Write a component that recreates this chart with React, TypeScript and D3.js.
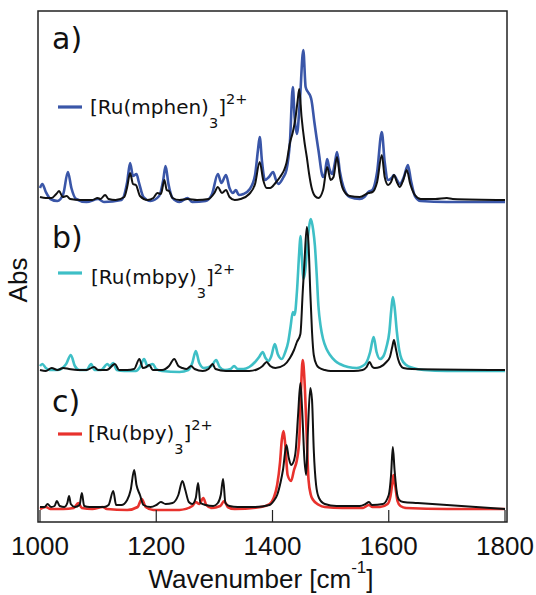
import React from 'react';
import * as d3 from 'd3';

// ---------- data (arbitrary absorbance units, relative to each panel baseline) ----------
const xTickValues = [1000, 1200, 1400, 1600, 1800];
const panelLabels = ['a)', 'b)', 'c)'];
const complexLigands = ['mphen', 'mbpy', 'bpy'];
const panelOffsets = [320, 150, 12];

const mphenSpectrum: [number, number][] = [
  [1000, 14], [1004, 18], [1010, 10], [1018, 3], [1030, 1], [1040, 8], [1048, 30], [1054, 14], [1062, 3],
  [1080, 0], [1100, 3], [1110, 0], [1140, 2], [1150, 20], [1155, 39], [1160, 26], [1166, 28], [1170, 20],
  [1178, 5], [1190, 1], [1205, 6], [1212, 22], [1216, 36], [1221, 18], [1228, 4], [1240, 0], [1254, 4],
  [1262, 0], [1285, 1], [1296, 8], [1306, 28], [1312, 19], [1320, 27], [1326, 14], [1332, 9], [1337, 12],
  [1342, 7], [1350, 8], [1361, 13], [1370, 27], [1375, 52], [1378, 65], [1382, 40], [1387, 22], [1394, 25],
  [1401, 30], [1406, 22], [1410, 18], [1418, 24], [1424, 32], [1430, 60], [1435, 115], [1438, 85],
  [1442, 68], [1447, 100], [1453, 152], [1457, 115], [1461, 110], [1465, 106], [1467, 102], [1472, 80],
  [1479, 52], [1487, 25], [1490, 28], [1494, 43], [1498, 33], [1503, 28], [1507, 38], [1511, 50],
  [1516, 30], [1522, 15], [1533, 5], [1550, 3], [1558, 5], [1565, 10], [1572, 12], [1580, 30], [1588, 70],
  [1593, 40], [1599, 22], [1605, 24], [1609, 27], [1614, 22], [1619, 18], [1626, 25], [1633, 37],
  [1638, 22], [1645, 6], [1655, 1], [1700, 0], [1800, 0],
];
const mphenReference: [number, number][] = [
  [1000, 5], [1010, 4], [1020, 4], [1028, 8], [1033, 11], [1039, 5], [1046, 6], [1052, 3], [1070, 2],
  [1090, 2], [1099, 4], [1104, 3], [1112, 7], [1118, 3], [1130, 2], [1145, 5], [1150, 15], [1155, 29],
  [1160, 18], [1165, 17], [1172, 6], [1185, 2], [1195, 4], [1202, 9], [1208, 8], [1214, 22], [1218, 12],
  [1222, 11], [1228, 4], [1240, 2], [1254, 3], [1270, 2], [1290, 3], [1300, 9], [1306, 15], [1313, 9],
  [1320, 12], [1326, 5], [1335, 2], [1345, 3], [1360, 8], [1370, 18], [1378, 40], [1384, 22], [1390, 14],
  [1396, 14], [1405, 19], [1413, 25], [1420, 32], [1424, 39], [1430, 59], [1435, 70], [1439, 82],
  [1443, 100], [1446, 113], [1450, 85], [1455, 60], [1459, 45], [1463, 28], [1467, 15], [1473, 6],
  [1479, 4], [1487, 12], [1494, 35], [1500, 22], [1505, 25], [1511, 45], [1516, 25], [1522, 12],
  [1533, 6], [1550, 5], [1565, 9], [1572, 10], [1580, 20], [1588, 47], [1593, 25], [1599, 17],
  [1604, 20], [1609, 27], [1614, 20], [1619, 15], [1625, 22], [1631, 32], [1637, 18], [1645, 7],
  [1655, 3], [1680, 3], [1700, 4], [1710, 3], [1800, 2],
];
const mbpySpectrum: [number, number][] = [
  [1000, 6], [1004, 8], [1010, 4], [1016, 2], [1030, 2], [1045, 8], [1053, 17], [1060, 6], [1068, 2],
  [1080, 2], [1088, 8], [1094, 2], [1105, 2], [1116, 8], [1120, 6], [1126, 9], [1132, 2], [1145, 1],
  [1165, 1], [1172, 5], [1179, 13], [1185, 6], [1194, 8], [1200, 3], [1210, 1], [1240, 0], [1255, 2],
  [1262, 9], [1268, 21], [1274, 9], [1282, 4], [1295, 6], [1303, 12], [1309, 5], [1318, 2], [1328, 3],
  [1334, 6], [1340, 3], [1350, 3], [1360, 5], [1370, 10], [1377, 15], [1383, 20], [1388, 14], [1393, 11],
  [1398, 16], [1404, 28], [1409, 18], [1416, 13], [1422, 20], [1427, 30], [1431, 45], [1435, 60],
  [1438, 57], [1442, 80], [1446, 120], [1448, 136], [1451, 110], [1453, 93], [1456, 100], [1461, 135],
  [1466, 153], [1470, 142], [1473, 126], [1476, 98], [1479, 66], [1483, 45], [1487, 33], [1493, 23],
  [1499, 17], [1508, 11], [1516, 8], [1530, 5], [1545, 4], [1555, 6], [1562, 10], [1568, 20], [1574, 35],
  [1579, 20], [1585, 13], [1591, 16], [1596, 25], [1601, 40], [1604, 60], [1607, 75], [1610, 65],
  [1614, 40], [1618, 22], [1622, 13], [1630, 7], [1642, 4], [1660, 2], [1700, 1], [1800, 1],
];
const mbpyReference: [number, number][] = [
  [1000, 2], [1010, 1], [1020, 4], [1030, 2], [1040, 4], [1050, 3], [1065, 2], [1080, 2], [1093, 5],
  [1100, 2], [1115, 2], [1129, 8], [1136, 2], [1150, 2], [1162, 3], [1171, 13], [1177, 4], [1183, 5],
  [1188, 7], [1194, 2], [1210, 2], [1222, 6], [1231, 13], [1238, 6], [1245, 4], [1252, 3], [1260, 6],
  [1266, 3], [1280, 1], [1290, 3], [1297, 8], [1302, 3], [1320, 1], [1360, 1], [1375, 3], [1383, 6],
  [1390, 10], [1396, 6], [1405, 4], [1420, 7], [1430, 14], [1437, 22], [1442, 30], [1448, 38], [1452, 80],
  [1455, 110], [1459, 145], [1462, 128], [1465, 80], [1468, 40], [1471, 17], [1476, 7], [1481, 4],
  [1490, 2], [1500, 1], [1540, 1], [1555, 2], [1562, 5], [1567, 10], [1572, 5], [1576, 4], [1585, 5],
  [1596, 10], [1602, 15], [1606, 25], [1609, 32], [1612, 24], [1616, 13], [1620, 7], [1625, 4],
  [1640, 3], [1800, 2],
];
const bpySpectrum: [number, number][] = [
  [1000, 1], [1010, 3], [1018, 1], [1040, 1], [1058, 2], [1066, 7], [1072, 2], [1090, 1], [1108, 3],
  [1115, 1], [1150, 0], [1168, 3], [1175, 11], [1182, 3], [1195, 0], [1240, 0], [1262, 4], [1268, 8],
  [1274, 6], [1281, 12], [1286, 5], [1295, 2], [1310, 4], [1317, 9], [1323, 3], [1335, 1], [1380, 3],
  [1395, 6], [1402, 12], [1408, 25], [1413, 48], [1416, 70], [1419, 79], [1422, 65], [1426, 35],
  [1432, 29], [1437, 40], [1442, 50], [1446, 70], [1449, 120], [1452, 150], [1455, 130], [1458, 88],
  [1462, 30], [1466, 15], [1470, 10], [1480, 5], [1490, 3], [1520, 2], [1555, 2], [1566, 5], [1572, 3],
  [1585, 3], [1598, 6], [1603, 14], [1606, 26], [1608, 35], [1611, 25], [1615, 9], [1620, 4], [1630, 2],
  [1700, 1], [1800, 1],
];
const bpyReference: [number, number][] = [
  [1000, 3], [1008, 3], [1013, 6], [1019, 3], [1025, 4], [1029, 9], [1034, 4], [1042, 3], [1047, 7],
  [1050, 14], [1053, 6], [1060, 3], [1068, 5], [1072, 17], [1076, 4], [1085, 3], [1110, 3], [1118, 5],
  [1126, 19], [1131, 5], [1140, 5], [1150, 10], [1156, 20], [1162, 40], [1166, 25], [1172, 15],
  [1178, 5], [1190, 3], [1200, 5], [1208, 8], [1216, 6], [1228, 7], [1238, 15], [1245, 29], [1250, 20],
  [1256, 8], [1262, 6], [1268, 12], [1272, 27], [1276, 7], [1285, 5], [1298, 4], [1306, 7], [1311, 15],
  [1315, 31], [1319, 7], [1326, 4], [1340, 3], [1370, 3], [1395, 5], [1402, 9], [1408, 15], [1414, 28],
  [1418, 40], [1424, 65], [1428, 52], [1432, 45], [1436, 48], [1440, 60], [1444, 95], [1448, 127],
  [1451, 100], [1455, 50], [1458, 35], [1461, 80], [1465, 122], [1468, 110], [1471, 60], [1475, 25],
  [1480, 12], [1490, 6], [1510, 4], [1550, 4], [1560, 6], [1566, 8], [1571, 5], [1590, 6], [1600, 15],
  [1604, 35], [1607, 63], [1610, 40], [1614, 17], [1618, 10], [1625, 8], [1650, 7], [1700, 5],
  [1750, 3], [1800, 1],
];

const complexSpectra = [mphenSpectrum, mbpySpectrum, bpySpectrum];
const referenceSpectra = [mphenReference, mbpyReference, bpyReference];

// ---------- styling / layout ----------
const W = 536;
const H = 595;
const frame = { left: 38, right: 507, top: 11, bottom: 522 };
const colors = ['#3a56a8', '#3ebfc6', '#e8322d'];
const labelBaselines = [49, 248, 412];
const legendLineY = [107, 273, 434];
const legendTextY = [113.5, 284, 440];
const legendTextX = [90, 91, 88];

export default function App() {
  const x = d3.scaleLinear().domain([1000, 1800]).range([40, 505]);
  const y = d3.scaleLinear().domain([0, 511]).range([frame.bottom, frame.top]);

  const makeLine = (offset: number) =>
    d3
      .line<[number, number]>()
      .x((d) => x(d[0]))
      .y((d) => y(d[1] + offset))
      .curve(d3.curveMonotoneX);

  const sans = "'DejaVu Sans', Verdana, sans-serif";
  const arial = "'Liberation Sans', Arial, sans-serif";

  return (
    <svg
      width={W}
      height={H}
      style={{ position: 'absolute', left: 0, top: 0, background: '#fff' }}
    >
      <defs>
        <clipPath id="plotclip">
          <rect x={frame.left} y={frame.top} width={frame.right - frame.left} height={frame.bottom - frame.top} />
        </clipPath>
      </defs>

      <g clipPath="url(#plotclip)">
        {complexSpectra.map((spec, i) => {
          const line = makeLine(panelOffsets[i]);
          return (
            <g key={i}>
              <path d={line(spec) || ''} fill="none" stroke={colors[i]} strokeWidth={2.6} strokeLinejoin="round" />
              <path d={line(referenceSpectra[i]) || ''} fill="none" stroke="#111" strokeWidth={2} strokeLinejoin="round" />
            </g>
          );
        })}
      </g>

      <rect
        x={frame.left}
        y={frame.top}
        width={frame.right - frame.left}
        height={frame.bottom - frame.top}
        fill="none"
        stroke="#222"
        strokeWidth={1.5}
      />

      {xTickValues.map((t) => (
        <g key={t}>
          <line x1={x(t)} x2={x(t)} y1={frame.bottom} y2={frame.bottom - 12} stroke="#222" strokeWidth={1.2} />
          <text x={x(t)} y={555} textAnchor="middle" fontFamily={arial} fontSize={26} fill="#111">
            {t}
          </text>
        </g>
      ))}

      <text x={261} y={588} textAnchor="middle" fontFamily={arial} fontSize={26} fill="#111">
        Wavenumber [cm
        <tspan fontSize={17} dy={-15}>-1</tspan>
        <tspan dy={15}>]</tspan>
      </text>

      <text
        transform="translate(27,280) rotate(-90)"
        textAnchor="middle"
        fontFamily={arial}
        fontSize={26}
        fill="#111"
      >
        Abs
      </text>

      {panelLabels.map((lab, i) => (
        <g key={lab}>
          <text x={52} y={labelBaselines[i]} fontFamily={sans} fontSize={30} fill="#111">
            {lab}
          </text>
          <line x1={58} x2={82} y1={legendLineY[i]} y2={legendLineY[i]} stroke={colors[i]} strokeWidth={3.2} />
          <text x={legendTextX[i]} y={legendTextY[i]} fontFamily={sans} fontSize={20} fill="#111">
            {`[Ru(${complexLigands[i]})`}
            <tspan fontSize={14.5} dy={14}>3</tspan>
            <tspan dy={-14}>]</tspan>
            <tspan fontSize={14.5} dy={-10}>2+</tspan>
          </text>
        </g>
      ))}
    </svg>
  );
}
